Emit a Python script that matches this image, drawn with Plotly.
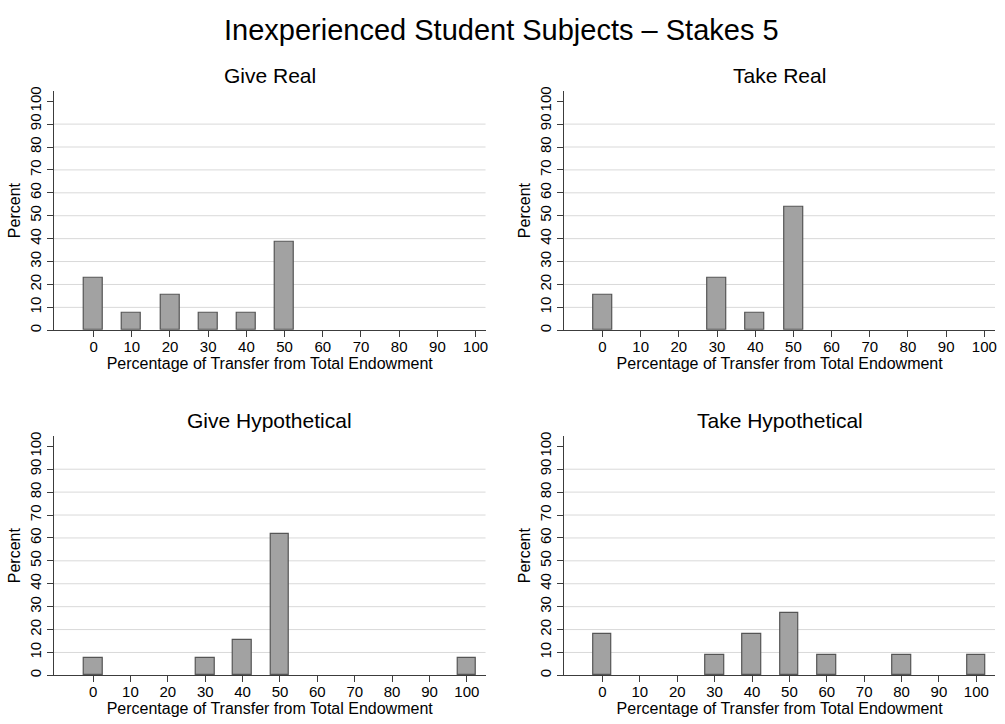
import plotly.graph_objects as go

# Transfer levels (percent of total endowment) shown on every x axis
transfer_ticks = [0, 10, 20, 30, 40, 50, 60, 70, 80, 90, 100]
percent_ticks = [0, 10, 20, 30, 40, 50, 60, 70, 80, 90, 100]
grid_levels = [10, 20, 30, 40, 50, 60, 70, 80, 90]

# Distribution of transfers, percent of subjects
give_real_x = [0, 10, 20, 30, 40, 50]
give_real_pct = [23.08, 7.69, 15.38, 7.69, 7.69, 38.46]

take_real_x = [0, 30, 40, 50]
take_real_pct = [15.38, 23.08, 7.69, 53.85]

give_hyp_x = [0, 30, 40, 50, 100]
give_hyp_pct = [7.69, 7.69, 15.38, 61.54, 7.69]

take_hyp_x = [0, 30, 40, 50, 60, 80, 100]
take_hyp_pct = [18.18, 9.09, 18.18, 27.27, 9.09, 9.09, 9.09]

main_title = "Inexperienced Student Subjects \u2013 Stakes 5"
x_title = "Percentage of Transfer from Total Endowment"
y_title = "Percent"

W, H = 1005, 724
FONT = "Liberation Sans, Arial, sans-serif"
BAR_FILL = "#a2a2a2"
BAR_EDGE = "#555555"
AXIS_COLOR = "#3c3c3c"
GRID_COLOR = "#d9d9d9"

# pixel layout of the four plot areas: (left, right, top, bottom)
col_px = [(54, 487), (566, 998)]
row_px = [(87.6, 329), (435.6, 677)]

panels = [
    ("Give Real", give_real_x, give_real_pct, 0, 0, [-10.4, 102.6]),
    ("Take Real", take_real_x, take_real_pct, 0, 1, [-10.0, 102.8]),
    ("Give Hypothetical", give_hyp_x, give_hyp_pct, 1, 0, [-10.5, 105.0]),
    ("Take Hypothetical", take_hyp_x, take_hyp_pct, 1, 1, [-10.2, 105.0]),
]

fig = go.Figure()
shapes = []
annotations = [
    dict(text=main_title, x=0.5, xref="paper", y=1 - 26 / H, yref="paper",
         xanchor="center", yanchor="middle", showarrow=False,
         font=dict(family=FONT, size=29, color="#000000")),
]

for i, (title, xs, ys, r, c, xrange_) in enumerate(panels):
    n = "" if i == 0 else str(i + 1)
    xname, yname = "x" + n, "y" + n
    left, right = col_px[c]
    top, bottom = row_px[r]
    xdom = [left / W, right / W]
    ydom = [1 - bottom / H, 1 - top / H]

    fig.add_trace(go.Bar(
        x=xs, y=ys, width=5, xaxis=xname, yaxis=yname,
        marker=dict(color=BAR_FILL, line=dict(color=BAR_EDGE, width=1.2)),
        showlegend=False, hoverinfo="x+y",
    ))

    fig.layout["xaxis" + n] = dict(
        domain=xdom, anchor=yname, range=xrange_,
        tickmode="array", tickvals=transfer_ticks,
        ticks="outside", ticklen=6, tickwidth=1, tickcolor=AXIS_COLOR,
        ticklabelstandoff=-3,
        showline=True, linecolor=AXIS_COLOR, linewidth=1.2,
        showgrid=False, zeroline=False,
        tickfont=dict(family=FONT, size=15, color="#000000"),
        title=dict(text=x_title, standoff=2,
                   font=dict(family=FONT, size=16, color="#000000")),
    )
    fig.layout["yaxis" + n] = dict(
        domain=ydom, anchor=xname, range=[0, 104.5],
        tickmode="array", tickvals=percent_ticks, tickangle=-90,
        ticks="outside", ticklen=6, tickwidth=1, tickcolor=AXIS_COLOR,
        showline=True, linecolor=AXIS_COLOR, linewidth=1.2,
        showgrid=False, zeroline=False,
        tickfont=dict(family=FONT, size=15, color="#000000"),
        title=dict(text=y_title, standoff=2,
                   font=dict(family=FONT, size=16, color="#000000")),
    )

    for g in grid_levels:
        shapes.append(dict(type="line", xref=xname + " domain", yref=yname,
                           x0=0, x1=1, y0=g, y1=g, layer="below",
                           line=dict(color=GRID_COLOR, width=1)))

    annotations.append(dict(
        text=title, x=(xdom[0] + xdom[1]) / 2, xref="paper",
        y=1 - (top - 16) / H, yref="paper", xanchor="center", yanchor="middle",
        showarrow=False, font=dict(family=FONT, size=21, color="#000000"),
    ))

fig.update_layout(
    width=W, height=H, autosize=False,
    margin=dict(l=0, r=0, t=0, b=0),
    paper_bgcolor="#ffffff", plot_bgcolor="#ffffff",
    bargap=0, shapes=shapes, annotations=annotations,
    font=dict(family=FONT, color="#000000"),
)

fig.write_html("out.html")
